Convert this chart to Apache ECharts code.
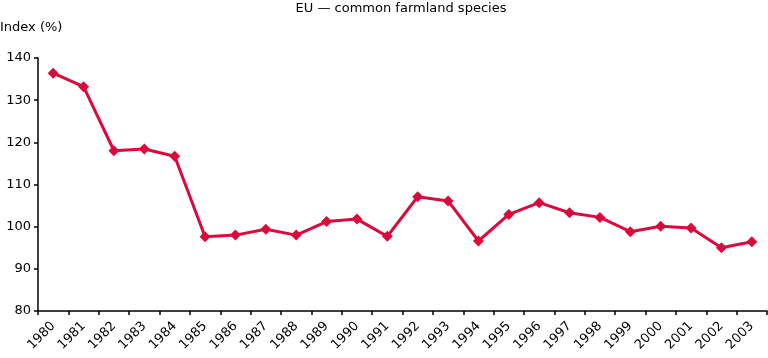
<!DOCTYPE html>
<html><head><meta charset="utf-8">
<script src="https://cdn.jsdelivr.net/npm/echarts@6/dist/echarts.min.js"></script>
<style>html,body{margin:0;padding:0;background:#fff}#c{width:768px;height:358px}</style>
</head><body><div id="c"></div>
<script>
const years = ['1980','1981','1982','1983','1984','1985','1986','1987','1988','1989','1990','1991','1992','1993','1994','1995','1996','1997','1998','1999','2000','2001','2002','2003'];
const indexValues = [136.4,133.2,118.0,118.4,116.7,97.6,98.0,99.4,98.0,101.2,101.8,97.7,107.1,106.1,96.6,102.9,105.7,103.3,102.2,98.8,100.1,99.7,95.0,96.4];
const yMin = 80, yMax = 140, yStep = 10;
const titleText = 'EU — common farmland species';
const yName = 'Index (%)';

const chart = echarts.init(document.getElementById('c'), null, {renderer:'canvas'});
const font = 'DejaVu Sans, Verdana, sans-serif';
chart.setOption({
  animation: false,
  backgroundColor: '#fff',
  title: {text: titleText, left: 396, top: -3, textAlign: 'center',
    textStyle: {fontFamily: font, fontSize: 13, fontWeight: 'normal', color: '#000'}},
  graphic: [{type:'text', left: 0, top: 21, style:{text: yName, font: '13px ' + font, fill:'#000'}}],
  grid: {left: 38, right: 1, top: 58, bottom: 47, containLabel: false},
  xAxis: {type:'category', data: years, boundaryGap: true,
    axisLine:{lineStyle:{color:'#000', width:1.5}},
    axisTick:{show:true, length:4, lineStyle:{color:'#000', width:1.5}},
    axisLabel:{rotate:45, fontFamily: font, fontSize: 13, color:'#000', margin: 13, interval: 0},
    splitLine:{show:false}},
  yAxis: {type:'value', min:yMin, max:yMax, interval:yStep,
    axisLine:{show:true, lineStyle:{color:'#000', width:1.5}},
    axisTick:{show:true, length:4, lineStyle:{color:'#000', width:1.5}},
    axisLabel:{fontFamily: font, fontSize: 13, color:'#000', margin: 7},
    splitLine:{show:false}},
  series: [{type:'line', data: indexValues, symbol:'diamond', symbolSize: 11,
    lineStyle:{color:'#dc0a3c', width:3}, itemStyle:{color:'#dc0a3c'}}]
});
</script></body></html>
